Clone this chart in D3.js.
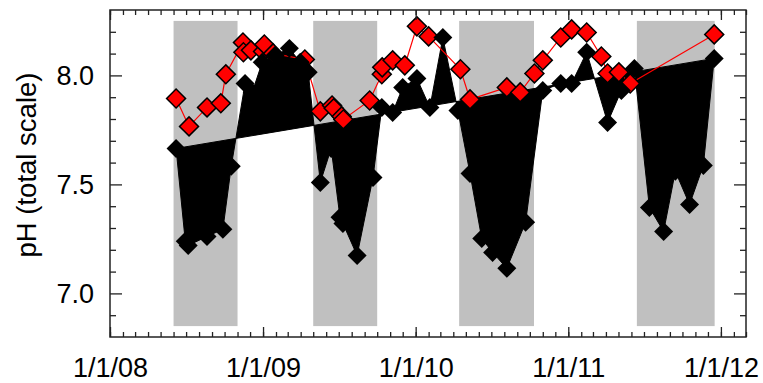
<!DOCTYPE html>
<html>
<head>
<meta charset="utf-8">
<script src="https://cdn.jsdelivr.net/npm/d3@7"></script>
<style>
  body { margin: 0; background: #fff; }
  svg { display: block; font-family: "Liberation Sans", Arial, sans-serif; }
</style>
</head>
<body>
<svg id="chart" width="763" height="383"></svg>
<script>
// seasons shaded in grey
const seasonStart = ["2008-06-01", "2009-05-01", "2010-04-15", "2011-06-14"];
const seasonEnd   = ["2008-11-01", "2009-10-01", "2010-10-11", "2011-12-17"];

// red series
const redDates = ["2008-06-07","2008-07-08","2008-08-20","2008-09-22","2008-10-04","2008-11-14","2008-11-15",
  "2008-12-03","2009-01-01","2009-01-04","2009-01-25","2009-04-11","2009-05-18","2009-06-15","2009-06-19",
  "2009-07-08","2009-07-12","2009-09-13","2009-10-12","2009-10-13","2009-11-07","2009-12-06","2010-01-04",
  "2010-02-01","2010-04-18","2010-05-11","2010-08-07","2010-09-08","2010-10-12","2010-11-01","2010-12-14",
  "2011-01-09","2011-02-14","2011-03-21","2011-04-05","2011-05-02","2011-05-29","2011-12-16"];
const redPH = [7.894,7.766,7.853,7.872,8.005,8.151,8.106,
  8.115,8.110,8.142,8.101,8.073,7.835,7.862,7.849,
  7.812,7.798,7.885,8.005,8.037,8.069,8.046,8.225,
  8.179,8.028,7.890,7.945,7.922,8.009,8.069,8.174,
  8.211,8.197,8.087,8.009,8.014,7.963,8.188];

// black series
const blackDates = ["2008-06-07","2008-06-29","2008-07-06","2008-08-20","2008-09-27","2008-10-17","2008-11-19",
  "2008-12-06","2008-12-30","2009-01-30","2009-03-05","2009-03-31","2009-04-19","2009-05-18","2009-06-13",
  "2009-07-04","2009-07-11","2009-08-14","2009-09-21","2009-10-12","2009-11-07","2009-12-01","2010-01-04",
  "2010-02-04","2010-03-07","2010-04-12","2010-05-11","2010-06-08","2010-07-04","2010-08-07","2010-09-21",
  "2010-11-01","2010-12-14","2011-01-09","2011-02-14","2011-04-05","2011-05-08","2011-06-08","2011-07-14",
  "2011-08-17","2011-09-14","2011-10-18","2011-11-20","2011-12-16"];
const blackPH = [7.665,7.239,7.220,7.261,7.294,7.583,7.963,
  7.922,8.060,8.092,8.124,8.060,8.014,7.509,7.665,
  7.349,7.321,7.174,7.532,7.853,7.830,7.945,7.986,
  7.853,8.174,7.839,7.550,7.252,7.188,7.115,7.326,
  7.931,7.963,7.963,8.106,7.784,7.931,8.032,7.394,
  7.284,7.560,7.408,7.587,8.078];

const yMajor = [7.0, 7.5, 8.0];
const yMinor = [6.9, 7.1, 7.2, 7.3, 7.4, 7.6, 7.7, 7.8, 7.9, 8.1, 8.2];
const xLabels = ["2008-01-01", "2009-01-01", "2010-01-01", "2011-01-01", "2012-01-01"];

const parse = d3.utcParse("%Y-%m-%d");
const svg = d3.select("#chart");
const plotLeft = 110, plotRight = 746, plotTop = 10, plotBottom = 337;

const x = d3.scaleUtc()
  .domain([parse("2008-01-01"), parse("2012-03-01")])
  .range([plotLeft, plotRight]);
const y = d3.scaleLinear().domain([6.8, 8.3]).range([plotBottom, plotTop]);

const red = redDates.map((d, i) => ({ date: parse(d), ph: redPH[i] }));
const black = blackDates.map((d, i) => ({ date: parse(d), ph: blackPH[i] }));

// shaded seasons
svg.append("g").selectAll("rect")
  .data(seasonStart.map((d, i) => ({ s: parse(d), e: parse(seasonEnd[i]) })))
  .enter().append("rect")
  .attr("x", d => x(d.s))
  .attr("width", d => x(d.e) - x(d.s))
  .attr("y", y(8.25))
  .attr("height", y(6.85) - y(8.25))
  .attr("fill", "#c0c0c0");

// black series filled as a closed polygon
svg.append("path")
  .datum(black)
  .attr("d", d3.line().x(d => x(d.date)).y(d => y(d.ph)).curve(d3.curveLinearClosed))
  .attr("fill", "#000")
  .attr("stroke", "#000")
  .attr("stroke-width", 1);

// red series
svg.append("path")
  .datum(red)
  .attr("d", d3.line().x(d => x(d.date)).y(d => y(d.ph)))
  .attr("fill", "none")
  .attr("stroke", "#ff0000")
  .attr("stroke-width", 1.2);

const diamond = d3.symbol().type(d3.symbolSquare).size(180);

svg.append("g").selectAll("path")
  .data(red)
  .enter().append("path")
  .attr("d", diamond)
  .attr("transform", d => `translate(${x(d.date)},${y(d.ph)}) rotate(45)`)
  .attr("fill", "#ff0000")
  .attr("stroke", "#000")
  .attr("stroke-width", 1.5);

svg.append("g").selectAll("path")
  .data(black)
  .enter().append("path")
  .attr("d", diamond)
  .attr("transform", d => `translate(${x(d.date)},${y(d.ph)}) rotate(45)`)
  .attr("fill", "#000");

// axes
const months = d3.utcMonth.range(parse("2008-01-01"), parse("2012-03-02"));
const years = xLabels.map(parse);

function clean(g) {
  g.select(".domain").remove();
  g.selectAll(".tick line").attr("stroke", "#222").attr("stroke-width", 1.3);
}

svg.append("g")
  .attr("transform", `translate(0,${plotBottom})`)
  .call(d3.axisBottom(x).tickValues(months).tickSize(-5).tickFormat(""))
  .call(clean);
svg.append("g")
  .attr("transform", `translate(0,${plotTop})`)
  .call(d3.axisTop(x).tickValues(months).tickSize(-5).tickFormat(""))
  .call(clean);
svg.append("g")
  .attr("transform", `translate(0,${plotTop})`)
  .call(d3.axisTop(x).tickValues(years).tickSize(-10).tickFormat(""))
  .call(clean);

const xAxis = svg.append("g")
  .attr("transform", `translate(0,${plotBottom})`)
  .call(d3.axisBottom(x).tickValues(years).tickSize(-10).tickFormat(d3.utcFormat("%-m/%-d/%y")))
  .call(clean);
xAxis.selectAll("text")
  .attr("y", 21).attr("dy", "0.71em")
  .attr("fill", "#000").style("font-size", "27px");

svg.append("g")
  .attr("transform", `translate(${plotLeft},0)`)
  .call(d3.axisLeft(y).tickValues(yMinor).tickSize(-6).tickFormat(""))
  .call(clean);
svg.append("g")
  .attr("transform", `translate(${plotRight},0)`)
  .call(d3.axisRight(y).tickValues(yMinor).tickSize(-6).tickFormat(""))
  .call(clean);
svg.append("g")
  .attr("transform", `translate(${plotRight},0)`)
  .call(d3.axisRight(y).tickValues(yMajor).tickSize(-12).tickFormat(""))
  .call(clean);

const yAxis = svg.append("g")
  .attr("transform", `translate(${plotLeft},0)`)
  .call(d3.axisLeft(y).tickValues(yMajor).tickSize(-12).tickPadding(16).tickFormat(d3.format(".1f")))
  .call(clean);
yAxis.selectAll("text")
  .attr("fill", "#000").style("font-size", "27px");

// frame
svg.append("rect")
  .attr("x", plotLeft).attr("y", plotTop)
  .attr("width", plotRight - plotLeft).attr("height", plotBottom - plotTop)
  .attr("fill", "none")
  .attr("stroke", "#222")
  .attr("stroke-width", 1.5);

svg.append("text")
  .attr("transform", `translate(36,165) rotate(-90)`)
  .attr("text-anchor", "middle")
  .style("font-size", "27.5px")
  .text("pH (total scale)");
</script>
</body>
</html>
